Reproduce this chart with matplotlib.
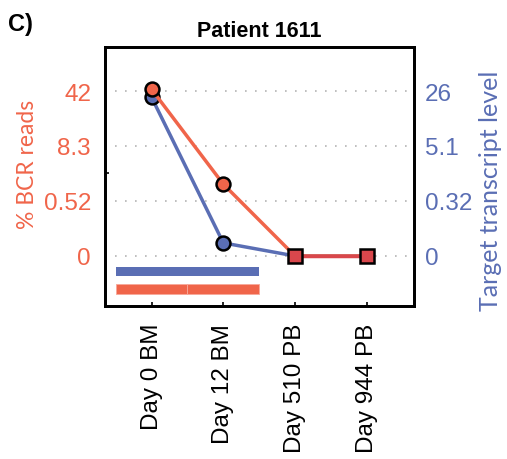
import numpy as np
import matplotlib
matplotlib.use("Agg")
import matplotlib.pyplot as plt

# data
days = ["Day 0 BM", "Day 12 BM", "Day 510 PB", "Day 944 PB"]
bcr_reads = [43.0, 2.9, 0.0, 0.0]          # % BCR reads (left axis)
target_level = [23.6, 0.076, 0.0, 0.0]     # target transcript level (right axis)
left_ticks = [0, 0.52, 8.3, 42]
right_ticks = [0, 0.32, 5.1, 26]
# sample bars under the plot: (start, end) in category units
blue_spans = [(-0.5, 0.5), (0.5, 1.5)]
red_spans = [(-0.5, 0.5), (0.5, 1.5)]

RED = "#f0654a"
BLUE = "#5a6eb4"
SQ_RED = "#d9474c"


def tick_scale(vals):
    """Piecewise linear scale putting the tick values at equal spacing."""
    vals = np.asarray(vals, float)
    pos = np.arange(len(vals), dtype=float)

    def fwd(v):
        v = np.asarray(v, float)
        out = np.interp(v, vals, pos)
        out = np.where(v < vals[0], (v - vals[0]) / (vals[1] - vals[0]), out)
        out = np.where(v > vals[-1], pos[-1] + (v - vals[-1]) / (vals[-1] - vals[-2]), out)
        return out

    def inv(p):
        p = np.asarray(p, float)
        out = np.interp(p, pos, vals)
        out = np.where(p < 0, vals[0] + p * (vals[1] - vals[0]), out)
        out = np.where(p > pos[-1], vals[-1] + (p - pos[-1]) * (vals[-1] - vals[-2]), out)
        return out

    return fwd, inv


plt.rcParams["font.family"] = ["Liberation Sans", "DejaVu Sans"]

fig = plt.figure(figsize=(5.07, 4.60), dpi=100)
# bottom axes carries the blue series, top (twin) the red one
ax = fig.add_axes([0.2071, 0.3326, 0.6095, 0.5630])
ax2 = ax.twinx()

x = np.arange(len(days))
pos_lim = (-0.91, 3.8)

lf, li = tick_scale(left_ticks)
rf, ri = tick_scale(right_ticks)
ax.set_yscale("function", functions=(rf, ri))
ax2.set_yscale("function", functions=(lf, li))
ax.set_ylim(ri(pos_lim[0]), ri(pos_lim[1]))
ax2.set_ylim(li(pos_lim[0]), li(pos_lim[1]))
ax.set_xlim(-0.65, 3.66)

# grid
for v in right_ticks:
    ax.axhline(v, color="#b4b4b4", lw=1.2, ls=(0, (1, 5)), zorder=0)

# blue series
tl = np.array(target_level)
ax.plot(x, tl, color=BLUE, lw=2.5, zorder=2)
nz = tl > 0
ax.plot(x[nz], tl[nz], "o", ms=10, mfc=BLUE, mec="black", mew=1.8, zorder=3)

# red series
br = np.array(bcr_reads)
ax2.plot(x, br, color=RED, lw=2.5, zorder=2)
zr = br == 0
ax2.plot(x[zr], br[zr], color=SQ_RED, lw=2.5, zorder=2)
ax2.plot(x[~zr], br[~zr], "o", ms=10, mfc=RED, mec="black", mew=1.8, zorder=3)
ax2.plot(x[zr], br[zr], "s", ms=10, mfc=SQ_RED, mec="black", mew=1.8, zorder=3)

# bars below the lines
trans = ax.get_xaxis_transform()
for s, e in blue_spans:
    ax.fill_between([s, e], 0.116, 0.151, transform=trans, color=BLUE, lw=0, zorder=1)
for s, e in red_spans:
    ax.fill_between([s, e], 0.046, 0.085, transform=trans, color=RED,
                    edgecolor="#f8a89a", lw=0.6, zorder=1)

# axes: red ticks on the left, blue on the right
ax.yaxis.tick_right()
ax2.yaxis.tick_left()

ax.set_yticks(right_ticks)
ax.set_yticklabels([f"{v:g}" for v in right_ticks])
ax.tick_params(axis="y", length=0, pad=8, labelsize=17.5, labelcolor=BLUE)
ax2.set_yticks(left_ticks)
ax2.set_yticklabels([f"{v:g}" for v in left_ticks])
ax2.tick_params(axis="y", length=0, pad=10, labelsize=17.5, labelcolor=RED)
ax2.set_yticks(li([0, 1.5, 3]), minor=True)
ax2.tick_params(axis="y", which="minor", direction="in", length=3, width=1.2)

ax.set_xticks(x)
ax.set_xticklabels(days, rotation=90, fontsize=17.5)
ax.tick_params(axis="x", direction="in", length=3, width=1.2, pad=12)

for a in (ax, ax2):
    for sp in a.spines.values():
        sp.set_linewidth(2)

lab_font = ["Lato", "DejaVu Sans"]
fig.text(0.054, 0.643, "% BCR reads", color=RED, fontsize=16.5, family=lab_font,
         rotation=90, ha="center", va="center")
fig.text(0.968, 0.585, "Target transcript level", color=BLUE, fontsize=18,
         family=lab_font, rotation=90, ha="center", va="center")
ax.set_title("Patient 1611", fontsize=15.5, fontweight="bold", pad=8)
fig.text(0.016, 0.972, "C)", fontsize=17, fontweight="bold", ha="left", va="top")

fig.savefig("out.png", dpi=100)
